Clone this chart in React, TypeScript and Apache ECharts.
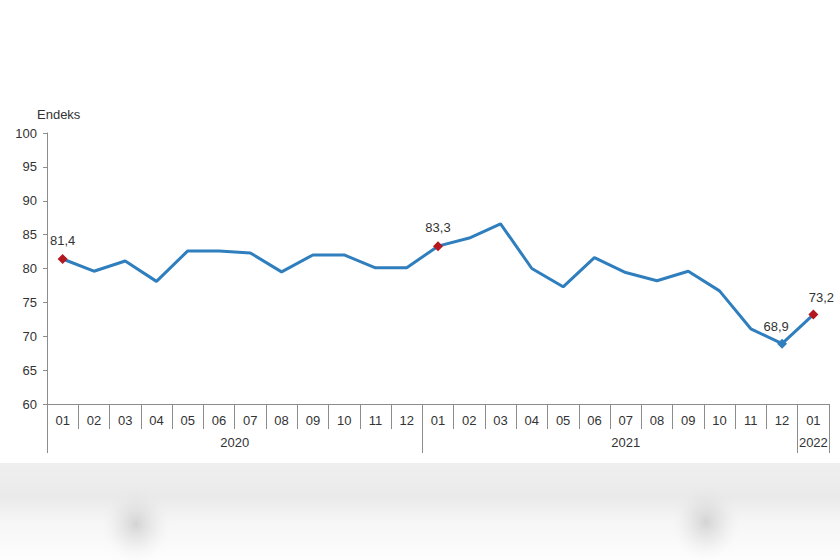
import React, { useEffect, useRef } from "react";
import * as echarts from "echarts";

const months = ["01","02","03","04","05","06","07","08","09","10","11","12","01","02","03","04","05","06","07","08","09","10","11","12","01"];
const values = [81.4,79.6,81.1,78.1,82.6,82.6,82.3,79.5,82.0,82.0,80.1,80.1,83.3,84.5,86.6,80.0,77.3,81.6,79.4,78.2,79.6,76.7,71.1,68.9,73.2];
const years = ["2020","2021","2022"];
const yearLabelPos = [6, 18.5, 24.5];
const yearBounds = [0, 12, 24, 25];
const redPoints = [0, 12, 24];
const bluePoints = [23];
const labelOffsets: Record<number, number[]> = { 0: [0, -1], 12: [0, -1], 23: [-6, 0], 24: [8, 0] };

const FONT = "'Liberation Sans', Arial, sans-serif";
const AXIS = "#8c8c8c";

const blob = (cx: number, cy: number) => ({
  type: "ellipse",
  shape: { cx, cy, rx: 34, ry: 38 },
  style: {
    fill: new echarts.graphic.RadialGradient(0.5, 0.5, 0.5, [
      { offset: 0, color: "rgba(200,200,200,0.75)" },
      { offset: 0.5, color: "rgba(215,215,215,0.4)" },
      { offset: 1, color: "rgba(235,235,235,0)" },
    ]),
  },
  silent: true,
  z: -9,
});

export default function App() {
  const ref = useRef<HTMLDivElement>(null);
  useEffect(() => {
    const chart = echarts.init(ref.current!, null, { renderer: "svg" });
    const data = values.map((v, i) => {
      const isRed = redPoints.includes(i);
      const isBlue = bluePoints.includes(i);
      if (!isRed && !isBlue) return { value: v, symbolSize: 0 };
      return {
        value: v,
        symbolSize: 10,
        itemStyle: { color: isRed ? "#b5171e" : "#2f7ebd" },
        label: {
          show: true,
          position: "top",
          distance: 6,
          offset: labelOffsets[i] || [0, 0],
          formatter: (p: any) => Number(p.value).toFixed(1).replace(".", ","),
          color: "#333",
          fontSize: 13,
          fontFamily: FONT,
        },
      };
    });
    chart.setOption({
      animation: false,
      backgroundColor: "#fff",
      textStyle: { fontFamily: FONT },
      graphic: [
        {
          type: "rect",
          shape: { x: 0, y: 463, width: 840, height: 97 },
          style: {
            fill: new echarts.graphic.LinearGradient(0, 0, 0, 1, [
              { offset: 0, color: "#efefef" },
              { offset: 0.35, color: "#eaeaea" },
              { offset: 0.6, color: "#f6f6f6" },
              { offset: 1, color: "#fdfdfd" },
            ]),
          },
          silent: true,
          z: -10,
        },
        blob(136, 524),
        blob(706, 522),
      ],
      grid: { left: 47, right: 11, top: 133, bottom: 156, containLabel: false },
      xAxis: [
        {
          type: "category",
          data: months,
          boundaryGap: true,
          axisLine: { lineStyle: { color: AXIS } },
          axisTick: { show: true, interval: 0, length: 25, lineStyle: { color: AXIS } },
          axisLabel: { interval: 0, margin: 10, fontSize: 13, color: "#333", fontFamily: FONT },
          splitLine: { show: false },
        },
        {
          type: "value",
          min: 0,
          max: 25,
          position: "bottom",
          offset: 25,
          axisLine: { show: false },
          axisTick: { show: true, customValues: yearBounds, length: 24, lineStyle: { color: AXIS } },
          axisLabel: {
            customValues: yearLabelPos,
            margin: 7,
            fontSize: 13,
            color: "#333",
            fontFamily: FONT,
            formatter: (v: number) => {
              const idx = yearLabelPos.indexOf(v);
              return idx >= 0 ? years[idx] : "";
            },
          },
          splitLine: { show: false },
        },
      ],
      yAxis: {
        type: "value",
        min: 60,
        max: 100,
        interval: 5,
        name: "Endeks",
        nameLocation: "end",
        nameGap: 12,
        nameTextStyle: { color: "#333", fontSize: 13, fontFamily: FONT, align: "left", padding: [0, 0, 0, -10] },
        axisLine: { show: true, lineStyle: { color: AXIS } },
        axisTick: { show: true, length: 4, lineStyle: { color: AXIS } },
        axisLabel: { margin: 10, fontSize: 13, color: "#333", fontFamily: FONT },
        splitLine: { show: false },
      },
      series: [
        {
          type: "line",
          xAxisIndex: 0,
          data,
          symbol: "diamond",
          showSymbol: true,
          lineStyle: { color: "#2f7ebd", width: 3 },
          itemStyle: { color: "#2f7ebd" },
          z: 3,
        },
      ],
    });
    return () => chart.dispose();
  }, []);
  return <div ref={ref} style={{ position: "fixed", left: 0, top: 0, width: 840, height: 560 }} />;
}
